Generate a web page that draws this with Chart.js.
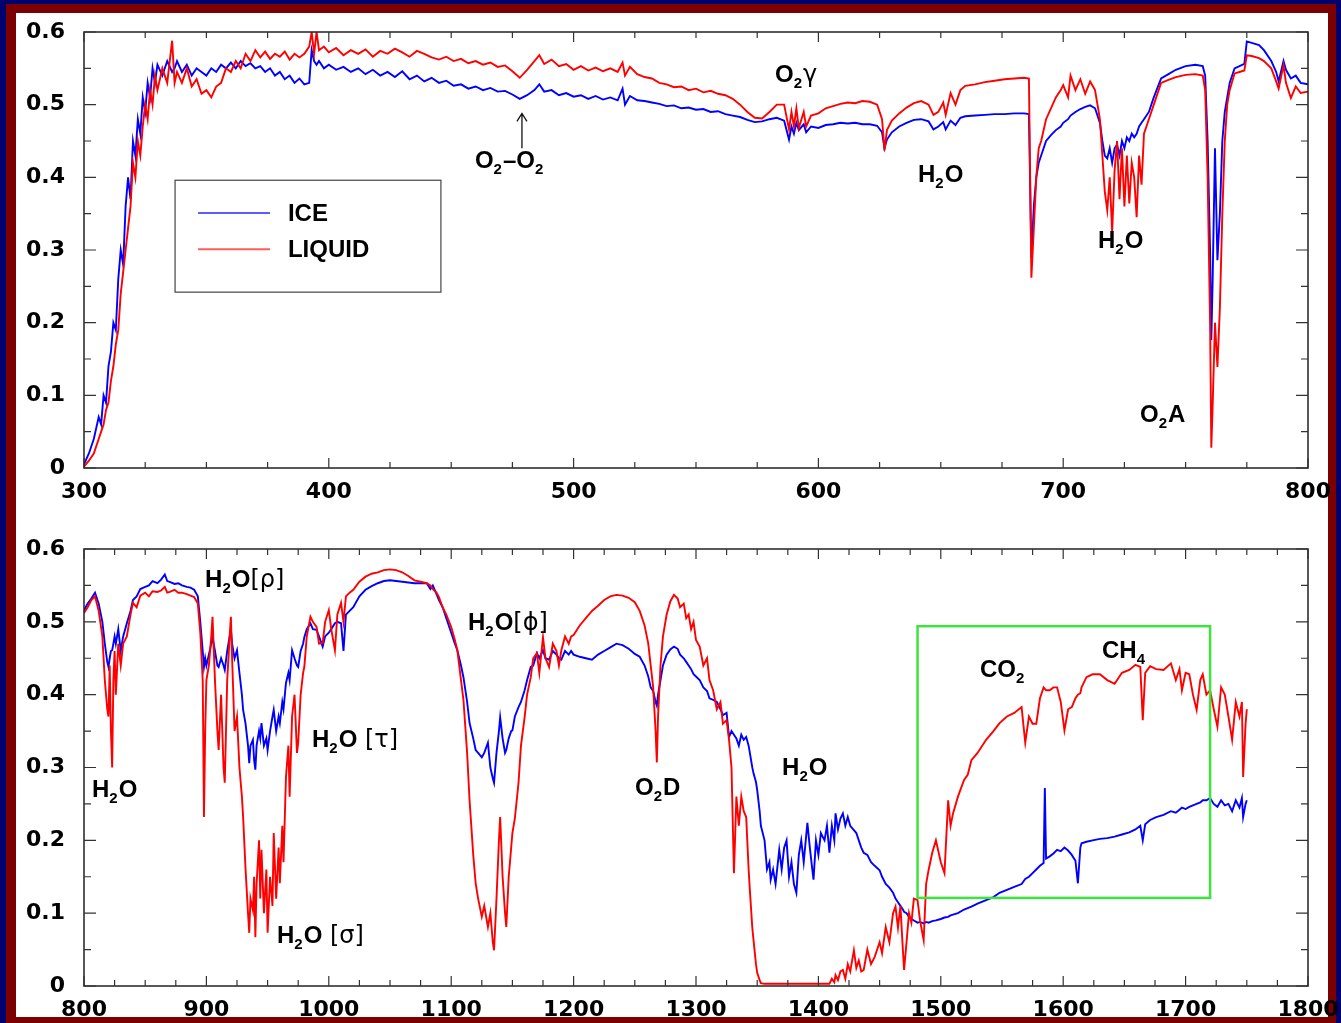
<!DOCTYPE html>
<html>
<head>
<meta charset="utf-8">
<script src="https://cdn.jsdelivr.net/npm/chart.js@4.4.1/dist/chart.umd.min.js"></script>
<style>
  html, body { margin: 0; padding: 0; }
  body { width: 1341px; height: 1023px; background: #00006e; position: relative; overflow: hidden; }
  #maroon { position: absolute; left: 6px; top: 4px; width: 1330px; height: 1030px; background: #7c0000; }
  #paper { position: absolute; left: 16px; top: 13px; width: 1312px; height: 1004px; background: #ffffff; }
  canvas { position: absolute; left: 0; }
</style>
</head>
<body>
<div id="maroon"></div>
<div id="paper"></div>
<canvas id="topChart" width="1341" height="510" style="top:0"></canvas>
<canvas id="botChart" width="1341" height="513" style="top:510px"></canvas>
<script>
// ---- data ----
// 300-800 nm panel
const topWavelength = [
  300, 302, 304, 306, 307, 308, 309, 310, 311, 312,
  313, 314, 315, 316, 317, 318, 319, 320, 321, 322,
  323, 324, 325, 326, 327, 328, 329, 330, 332, 334,
  336, 337, 338, 340, 342, 344, 346, 348, 350, 352,
  354, 356, 358, 360, 362, 364, 366, 368, 370, 372,
  374, 376, 378, 380, 382, 384, 386, 388, 390, 392,
  393, 394, 395, 396, 398, 400, 403, 406, 409, 412,
  415, 418, 421, 424, 427, 430, 433, 436, 439, 442,
  445, 448, 451, 454, 457, 460, 463, 466, 469, 472,
  475, 478, 481, 484, 486, 488, 491, 494, 497, 500,
  503, 506, 509, 512, 515, 518, 520, 521, 523, 526,
  529, 532, 535, 538, 541, 544, 547, 550, 553, 556,
  559, 562, 565, 568, 571, 574, 577, 580, 583, 586,
  588, 589, 590, 591, 592, 594, 595, 597, 600, 603,
  606, 609, 612, 615, 618, 621, 624, 626, 627, 628,
  630, 633, 636, 639, 642, 645, 647, 649, 651, 652,
  654, 656, 658, 660, 664, 668, 672, 676, 680, 684,
  686, 687, 688, 689, 690, 691, 693, 695, 697, 699,
  700, 702, 703, 705, 707, 709, 711, 713, 715, 716,
  717, 718, 719, 720, 721, 722, 723, 724, 725, 726,
  727, 728, 729, 730, 731, 732, 733, 735, 737, 740,
  743, 746, 750, 754, 757, 758, 759, 760, 760.5, 761,
  762, 763, 764, 765, 766, 767, 768, 770, 772, 774,
  775, 777, 780, 782, 785, 787, 788, 790, 791, 793,
  795, 797, 800
];
const topIce = [
  .005, .02, .04, .07, .06, .1, .09, .14, .16, .2,
  .19, .26, .3, .28, .36, .4, .37, .45, .43, .48,
  .46, .51, .49, .53, .51, .55, .53, .555, .54, .56,
  .545, .55, .56, .545, .555, .54, .55, .545, .54, .55,
  .545, .555, .55, .558, .55, .56, .553, .557, .55, .553,
  .545, .55, .54, .545, .535, .54, .53, .536, .528, .53,
  .575, .56, .555, .56, .55, .555, .548, .552, .545, .55,
  .542, .548, .54, .545, .538, .546, .535, .54, .532, .537,
  .53, .533, .526, .528, .522, .525, .52, .523, .518, .519,
  .514, .508, .513, .52, .528, .518, .52, .513, .516, .511,
  .513, .508, .512, .507, .51, .506, .522, .5, .512, .506,
  .505, .503, .501, .498, .499, .495, .496, .493, .494, .49,
  .491, .487, .485, .483, .479, .476, .477, .48, .482, .478,
  .452, .47, .46, .475, .465, .473, .462, .47, .468, .472,
  .473, .475, .474, .475, .473, .473, .471, .462, .44, .452,
  .462, .47, .475, .479, .48, .477, .466, .47, .476, .466,
  .478, .472, .482, .484, .485, .486, .487, .487, .488, .488,
  .487, .29, .36, .4, .42, .43, .45, .458, .465, .47,
  .475, .48, .485, .49, .494, .497, .499, .495, .475, .45,
  .43, .426, .44, .42, .44, .445, .43, .45, .44, .455,
  .45, .46, .455, .46, .47, .475, .48, .49, .51, .536,
  .542, .548, .553, .555, .553, .54, .45, .3, .176, .25,
  .44, .286, .35, .45, .49, .51, .53, .55, .553, .556,
  .587, .585, .582, .575, .56, .545, .532, .56, .548, .536,
  .54, .53, .528
];
const topLiquid = [
  .002, .01, .02, .04, .05, .06, .08, .09, .12, .14,
  .17, .19, .24, .27, .3, .33, .36, .42, .4, .45,
  .43, .47, .5, .48, .52, .5, .54, .52, .55, .53,
  .588, .53, .545, .53, .55, .525, .535, .515, .52, .51,
  .525, .53, .55, .545, .56, .55, .57, .56, .575, .565,
  .573, .563, .57, .566, .573, .562, .57, .565, .57, .58,
  .6, .57, .6, .575, .58, .572, .578, .568, .575, .57,
  .576, .566, .574, .57, .577, .572, .566, .574, .57, .565,
  .562, .566, .56, .563, .557, .56, .555, .558, .552, .554,
  .546, .537, .548, .56, .568, .556, .562, .553, .556, .548,
  .553, .547, .551, .546, .55, .545, .558, .54, .552, .542,
  .538, .536, .53, .528, .524, .525, .52, .522, .517, .519,
  .515, .513, .508, .5, .49, .482, .481, .49, .5, .5,
  .466, .49, .47, .495, .468, .49, .47, .485, .488, .495,
  .498, .501, .503, .502, .505, .504, .5, .48, .437, .465,
  .478, .488, .496, .502, .505, .5, .486, .49, .503, .486,
  .516, .5, .52, .526, .528, .531, .533, .535, .536, .537,
  .536, .262, .33, .4, .44, .45, .48, .495, .51, .52,
  .527, .51, .54, .52, .535, .515, .532, .52, .48, .43,
  .38, .355, .4, .325, .41, .45, .37, .44, .36, .43,
  .364, .42, .4, .345, .43, .39, .46, .48, .5, .53,
  .534, .538, .541, .542, .54, .52, .4, .2, .028, .08,
  .2, .139, .22, .35, .45, .5, .52, .543, .545, .547,
  .568, .567, .564, .56, .55, .532, .522, .554, .53, .509,
  .525, .516, .518
];

// 800-1800 nm panel
const botWavelength = [
  800, 803, 806, 809, 812, 815, 817, 819, 820, 821,
  822, 823, 824, 825, 826, 828, 830, 832, 835, 838,
  840, 843, 846, 850, 853, 856, 860, 863, 866, 868,
  870, 874, 877, 880, 884, 887, 890, 893, 895, 897,
  898, 899, 900, 902, 904, 905, 907, 909, 910, 912,
  914, 915, 917, 919, 920, 921, 923, 925, 927, 929,
  930, 932, 934, 935, 936, 938, 939, 940, 941, 943,
  944, 945, 947, 949, 950, 952, 954, 955, 957, 959,
  960, 962, 963, 965, 967, 968, 970, 972, 974, 975,
  977, 979, 980, 982, 985, 987, 990, 992, 995, 997,
  1000, 1002, 1005, 1007, 1010, 1012, 1014, 1017, 1020, 1025,
  1030, 1035, 1040, 1045, 1050, 1055, 1060, 1065, 1070, 1075,
  1080, 1083, 1085, 1088, 1090, 1093, 1096, 1100, 1103, 1105,
  1108, 1110, 1113, 1115, 1118, 1120, 1122, 1125, 1127, 1130,
  1132, 1134, 1135, 1137, 1139, 1140, 1142, 1144, 1145, 1147,
  1149, 1150, 1152, 1155, 1157, 1160, 1162, 1165, 1167, 1170,
  1172, 1175, 1177, 1180, 1183, 1186, 1188, 1190, 1193, 1196,
  1198, 1200, 1205, 1210, 1215, 1220, 1225, 1230, 1235, 1240,
  1245, 1250, 1254, 1258, 1261, 1263, 1265, 1267, 1268, 1269,
  1271, 1273, 1276, 1279, 1282, 1285, 1287, 1290, 1292, 1294,
  1296, 1298, 1300, 1303, 1306, 1309, 1311, 1314, 1317, 1320,
  1322, 1325, 1327, 1329, 1331, 1333, 1335, 1337, 1339, 1341,
  1343, 1344, 1346, 1347, 1349, 1350, 1352, 1353, 1356, 1358,
  1360, 1361, 1363, 1365, 1368, 1370, 1372, 1374, 1376, 1378,
  1380, 1382, 1384, 1386, 1388, 1391, 1393, 1395, 1396, 1398,
  1400, 1402, 1405, 1407, 1409, 1411, 1413, 1414, 1416, 1418,
  1420, 1422, 1424, 1426, 1429, 1431, 1433, 1435, 1437, 1440,
  1443, 1446, 1450, 1452, 1455, 1458, 1461, 1463, 1465, 1467,
  1469, 1470, 1472, 1474, 1476, 1478, 1481, 1483, 1486, 1488,
  1490, 1493, 1496, 1500, 1503, 1506, 1508, 1510, 1514, 1519,
  1522, 1525, 1530, 1537, 1543, 1548, 1554, 1560, 1566, 1569,
  1572, 1575, 1578, 1581, 1584, 1585, 1586, 1589, 1592, 1595,
  1598, 1601, 1604, 1607, 1610, 1612, 1614, 1615, 1619, 1624,
  1630, 1636, 1642, 1648, 1654, 1659, 1663, 1665, 1667, 1671,
  1676, 1682, 1688, 1692, 1695, 1697, 1700, 1703, 1706, 1709,
  1712, 1714, 1717, 1720, 1723, 1726, 1729, 1732, 1735, 1738,
  1741, 1744, 1746, 1747, 1749, 1750
];
const botIce = [
  .516, .525, .532, .54, .525, .5, .47, .445, .438, .45,
  .46, .461, .47, .48, .47, .49, .46, .48, .498, .515,
  .53, .535, .545, .548, .55, .556, .553, .558, .565, .556,
  .555, .552, .553, .55, .548, .547, .544, .535, .5, .46,
  .438, .45, .44, .455, .47, .479, .46, .44, .438, .45,
  .44, .434, .46, .48, .49, .47, .45, .461, .43, .4,
  .379, .36, .33, .306, .33, .338, .31, .297, .33, .35,
  .34, .361, .33, .34, .324, .35, .37, .379, .35, .37,
  .361, .39, .38, .416, .43, .42, .461, .45, .44, .438,
  .46, .47, .479, .49, .498, .49, .489, .48, .466, .48,
  .485, .49, .498, .5, .498, .46, .51, .515, .52, .535,
  .544, .549, .553, .556, .557, .556, .555, .554, .553, .553,
  .553, .545, .55, .538, .53, .52, .505, .485, .47, .461,
  .44, .424, .39, .361, .34, .324, .32, .314, .32, .334,
  .3, .285, .279, .32, .35, .369, .34, .32, .324, .34,
  .35, .351, .37, .383, .39, .406, .42, .438, .44, .457,
  .45, .461, .45, .448, .46, .455, .45, .448, .46, .455,
  .46, .455, .452, .45, .448, .455, .46, .465, .47, .468,
  .463, .456, .452, .44, .425, .41, .405, .39, .385, .4,
  .42, .44, .455, .462, .466, .463, .455, .45, .445, .44,
  .435, .428, .425, .42, .41, .405, .395, .393, .39, .38,
  .372, .375, .342, .35, .345, .34, .33, .345, .338, .342,
  .33, .32, .3, .292, .28, .269, .24, .22, .2, .16,
  .17, .146, .16, .14, .187, .16, .19, .2, .15, .17,
  .14, .128, .18, .2, .17, .224, .19, .16, .146, .2,
  .18, .21, .2, .22, .183, .22, .2, .237, .215, .23,
  .237, .22, .232, .22, .214, .21, .2, .19, .183, .18,
  .17, .165, .159, .15, .14, .135, .128, .12, .115, .11,
  .105, .102, .1, .095, .092, .09, .087, .088, .086, .088,
  .087, .089, .09, .092, .094, .095, .097, .098, .1, .105,
  .107, .109, .113, .118, .122, .128, .132, .136, .14, .147,
  .15, .155, .16, .165, .169, .272, .175, .178, .182, .187,
  .185, .19, .186, .18, .172, .141, .19, .196, .198, .2,
  .202, .203, .205, .208, .211, .215, .22, .2, .222, .228,
  .232, .235, .24, .238, .242, .245, .243, .246, .248, .25,
  .252, .255, .255, .258, .25, .246, .255, .248, .25, .24,
  .255, .245, .258, .232, .25, .255
];
const botLiquid = [
  .512, .52, .53, .535, .515, .48, .42, .38, .37, .44,
  .35, .3, .42, .46, .4, .47, .44, .47, .48, .51,
  .526, .52, .536, .54, .535, .542, .541, .543, .548, .54,
  .541, .544, .54, .54, .538, .536, .534, .525, .485, .42,
  .232, .35, .42, .44, .48, .507, .42, .35, .324, .4,
  .3, .279, .42, .48, .507, .45, .35, .37, .3, .26,
  .232, .16, .1, .073, .12, .104, .15, .067, .14, .2,
  .12, .187, .1, .16, .073, .15, .11, .21, .12, .19,
  .141, .22, .17, .287, .33, .26, .37, .4, .32, .334,
  .4, .43, .438, .48, .507, .5, .493, .47, .471, .5,
  .516, .49, .461, .51, .526, .5, .535, .54, .544, .555,
  .562, .566, .568, .571, .572, .571, .568, .563, .557, .555,
  .553, .55, .545, .54, .534, .52, .51, .493, .475, .461,
  .42, .393, .32, .255, .18, .141, .12, .095, .11, .081,
  .1, .06, .049, .12, .2, .232, .15, .1, .081, .15,
  .19, .21, .23, .279, .33, .369, .4, .424, .45, .457,
  .43, .479, .45, .438, .47, .46, .44, .461, .48, .47,
  .48, .482, .495, .505, .515, .522, .53, .535, .537, .536,
  .533, .527, .515, .495, .47, .44, .41, .35, .307, .37,
  .44, .48, .51, .528, .537, .532, .52, .525, .505, .51,
  .49, .5, .475, .466, .44, .45, .42, .406, .38, .39,
  .36, .365, .338, .3, .155, .26, .22, .26, .24, .232,
  .16, .132, .08, .063, .03, .018, .008, .004, .003, .003,
  .003, .003, .003, .003, .003, .003, .003, .003, .003, .003,
  .003, .003, .003, .003, .003, .003, .003, .003, .003, .003,
  .003, .003, .003, .003, .003, .01, .005, .015, .008, .02,
  .022, .01, .03, .02, .049, .025, .035, .02, .022, .05,
  .03, .04, .06, .045, .081, .06, .1, .109, .08, .11,
  .05, .022, .06, .1, .087, .12, .118, .09, .063, .14,
  .159, .183, .2, .17, .155, .255, .22, .237, .26, .283,
  .29, .31, .32, .338, .35, .361, .37, .375, .383, .334,
  .37, .36, .36, .395, .41, .408, .406, .406, .41, .41,
  .39, .351, .38, .383, .395, .4, .402, .41, .424, .428,
  .428, .42, .415, .43, .434, .441, .438, .365, .43, .439,
  .435, .434, .443, .42, .435, .406, .43, .428, .4, .379,
  .42, .428, .4, .406, .38, .356, .41, .4, .37, .338,
  .39, .37, .39, .287, .36, .38
];

const topXTicks = [300, 400, 500, 600, 700, 800];
const botXTicks = [800, 900, 1000, 1100, 1200, 1300, 1400, 1500, 1600, 1700, 1800];
const yTicks = [0, 0.1, 0.2, 0.3, 0.4, 0.5, 0.6];

// ---- drawing helpers ----
const TEXT_FONT = 'bold 24px "Liberation Sans", Arial, sans-serif';
const SUB_FONT = 'bold 15px "Liberation Sans", Arial, sans-serif';
const GREEK_FONT = '24px "DejaVu Sans", sans-serif';

function drawLabel(ctx, px, py, parts) {
  let cx = px;
  parts.forEach(([t, kind]) => {
    ctx.font = kind === 's' ? SUB_FONT : kind === 'g' ? GREEK_FONT : TEXT_FONT;
    ctx.fillText(t, cx, kind === 's' ? py + 6 : py);
    cx += ctx.measureText(t).width + (kind === 's' ? 1 : 0);
  });
}

const framePlugin = {
  id: 'frame',
  afterDatasetsDraw(chart, args, opts) {
    const ctx = chart.ctx, a = chart.chartArea;
    const x = chart.scales.x, y = chart.scales.y;
    ctx.save();

    if (opts.box) {
      const b = opts.box;
      const x0 = x.getPixelForValue(b.x0), x1 = x.getPixelForValue(b.x1);
      const y0 = y.getPixelForValue(b.y0), y1 = y.getPixelForValue(b.y1);
      ctx.strokeStyle = '#3ee43e';
      ctx.lineWidth = 2.5;
      ctx.strokeRect(x0, y1, x1 - x0, y0 - y1);
    }

    // plot frame
    ctx.strokeStyle = '#222';
    ctx.lineWidth = 1.5;
    ctx.strokeRect(a.left, a.top, a.right - a.left, a.bottom - a.top);

    // inward ticks on all four sides
    ctx.lineWidth = 1.2;
    ctx.strokeStyle = '#333';
    ctx.beginPath();
    const nx = Math.round((x.max - x.min) / opts.minorX);
    for (let k = 0; k <= nx; k++) {
      const p = x.getPixelForValue(x.min + k * opts.minorX);
      const len = (k * opts.minorX) % 100 === 0 ? 10 : 6;
      ctx.moveTo(p, a.bottom); ctx.lineTo(p, a.bottom - len);
      ctx.moveTo(p, a.top); ctx.lineTo(p, a.top + len);
    }
    for (let k = 0; k <= 12; k++) {
      const p = y.getPixelForValue(k * 0.05);
      const len = k % 2 === 0 ? 12 : 7;
      ctx.moveTo(a.left, p); ctx.lineTo(a.left + len, p);
      ctx.moveTo(a.right, p); ctx.lineTo(a.right - len, p);
    }
    ctx.stroke();

    // legend
    if (opts.legend) {
      const L = opts.legend;
      const bx0 = x.getPixelForValue(L.x0), bx1 = x.getPixelForValue(L.x1);
      const by0 = y.getPixelForValue(L.y0), by1 = y.getPixelForValue(L.y1);
      ctx.strokeStyle = '#444';
      ctx.lineWidth = 1.2;
      ctx.strokeRect(bx0, by0, bx1 - bx0, by1 - by0);
      L.rows.forEach(([name, col, v]) => {
        const py = y.getPixelForValue(v);
        ctx.strokeStyle = col;
        ctx.lineWidth = 2;
        ctx.beginPath();
        ctx.moveTo(x.getPixelForValue(L.lx0), py);
        ctx.lineTo(x.getPixelForValue(L.lx1), py);
        ctx.stroke();
        ctx.fillStyle = '#000';
        ctx.font = TEXT_FONT;
        ctx.textBaseline = 'middle';
        ctx.fillText(name, x.getPixelForValue(L.tx), py + 1);
      });
    }

    // arrow
    if (opts.arrow) {
      const r = opts.arrow;
      const px = x.getPixelForValue(r.x);
      const pa = y.getPixelForValue(r.y0), pb = y.getPixelForValue(r.y1);
      ctx.strokeStyle = '#111';
      ctx.lineWidth = 1.3;
      ctx.beginPath();
      ctx.moveTo(px, pa); ctx.lineTo(px, pb);
      ctx.moveTo(px - 5, pb + 8); ctx.lineTo(px, pb); ctx.lineTo(px + 5, pb + 8);
      ctx.stroke();
    }

    // labels
    ctx.fillStyle = '#000';
    ctx.textBaseline = 'alphabetic';
    (opts.notes || []).forEach(n => {
      drawLabel(ctx, x.getPixelForValue(n.x), y.getPixelForValue(n.y), n.parts);
    });
    ctx.restore();
  }
};

const H2O = [['H'], ['2', 's'], ['O']];

function makeChart(id, wl, ice, liq, xTicks, padTop, xAxisH, frame) {
  const pts = arr => arr.map((v, i) => ({ x: wl[i], y: v }));
  return new Chart(document.getElementById(id), {
    type: 'line',
    data: {
      datasets: [
        { label: 'ICE', data: pts(ice), borderColor: '#0000ff', borderWidth: 1.9, pointRadius: 0, tension: 0, order: 2 },
        { label: 'LIQUID', data: pts(liq), borderColor: '#ff0000', borderWidth: 1.9, pointRadius: 0, tension: 0, order: 1 }
      ]
    },
    options: {
      responsive: false,
      animation: false,
      events: [],
      layout: { padding: { left: 0, right: 33, top: padTop, bottom: 0 } },
      plugins: { legend: { display: false }, tooltip: { enabled: false }, frame: frame },
      scales: {
        x: {
          type: 'linear',
          min: xTicks[0],
          max: xTicks[xTicks.length - 1],
          grid: { display: false, drawTicks: false },
          border: { display: false },
          afterBuildTicks: s => { s.ticks = xTicks.map(v => ({ value: v })); },
          afterFit: s => { s.height = xAxisH; s.paddingLeft = 0; s.paddingRight = 0; },
          ticks: { padding: 11, maxRotation: 0, autoSkip: false, color: '#000',
                   callback: v => String(v),
                   font: { family: 'DejaVu Sans', weight: 'bold', size: 22 } }
        },
        y: {
          min: 0,
          max: 0.6,
          grid: { display: false, drawTicks: false },
          border: { display: false },
          afterBuildTicks: s => { s.ticks = yTicks.map(v => ({ value: v })); },
          afterFit: s => { s.width = 84; s.paddingTop = 0; s.paddingBottom = 0; },
          ticks: { padding: 19, color: '#000', callback: v => v === 0 ? '0' : v.toFixed(1),
                   font: { family: 'DejaVu Sans', weight: 'bold', size: 22 } }
        }
      }
    },
    plugins: [framePlugin]
  });
}

makeChart('topChart', topWavelength, topIce, topLiquid, topXTicks, 32, 42, {
  minorX: 25,
  legend: { x0: 337.2, x1: 445.8, y0: 0.396, y1: 0.242, lx0: 346.6, lx1: 376, tx: 383.3,
            rows: [['ICE', '#5c5cff', 0.351], ['LIQUID', '#ff5c5c', 0.301]] },
  arrow: { x: 478.9, y0: 0.44, y1: 0.488 },
  notes: [
    { x: 582.3, y: 0.531, parts: [['O'], ['2', 's'], ['γ', 'g']] },
    { x: 459.7, y: 0.413, parts: [['O'], ['2', 's'], ['–'], ['O'], ['2', 's']] },
    { x: 640.7, y: 0.393, parts: H2O },
    { x: 714.2, y: 0.303, parts: H2O },
    { x: 731.4, y: 0.063, parts: [['O'], ['2', 's'], ['A']] }
  ]
});

makeChart('botChart', botWavelength, botIce, botLiquid, botXTicks, 39, 37, {
  minorX: 25,
  box: { x0: 1481, x1: 1720, y0: 0.121, y1: 0.494 },
  notes: [
    { x: 806.5, y: 0.2595, parts: H2O },
    { x: 898.9, y: 0.548, parts: H2O.concat([['[', 'g'], ['ρ', 'g'], [']', 'g']]) },
    { x: 986.3, y: 0.328, parts: H2O.concat([[' [', 'g'], ['τ', 'g'], [']', 'g']]) },
    { x: 957.7, y: 0.059, parts: H2O.concat([[' [', 'g'], ['σ', 'g'], [']', 'g']]) },
    { x: 1113.7, y: 0.489, parts: H2O.concat([['[', 'g'], ['ϕ', 'g'], [']', 'g']]) },
    { x: 1250.2, y: 0.262, parts: [['O'], ['2', 's'], ['D']] },
    { x: 1370.3, y: 0.29, parts: H2O },
    { x: 1532, y: 0.424, parts: [['C'], ['O'], ['2', 's']] },
    { x: 1631.7, y: 0.45, parts: [['C'], ['H'], ['4', 's']] }
  ]
});
</script>
</body>
</html>
